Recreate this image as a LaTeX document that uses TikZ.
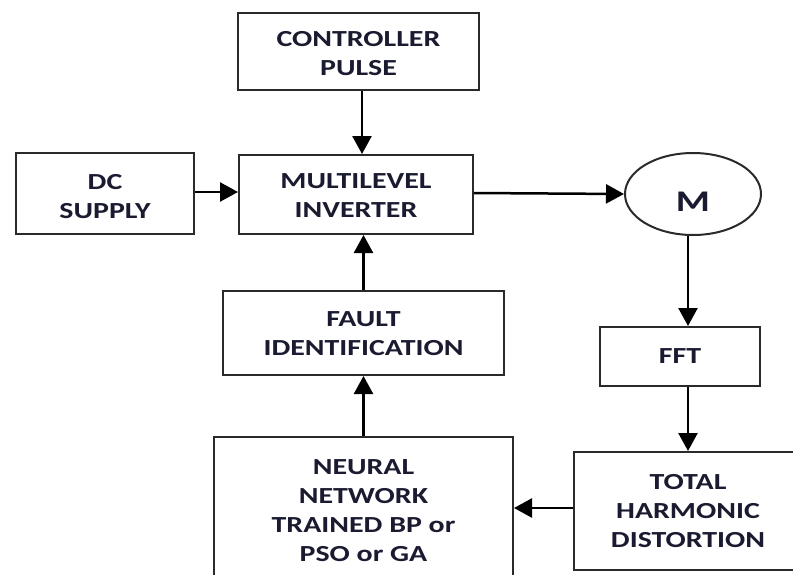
\documentclass[tikz,border=0pt]{standalone}
\usepackage{fontspec}
\setmainfont{Carlito}[FakeStretch=1.3]
\usetikzlibrary{shapes.geometric,arrows.meta,calc}
\definecolor{txt}{HTML}{1A1A30}
\definecolor{edge}{HTML}{2A2A2A}
\newcommand\lowtxt[2]{\raisebox{-#1}[\height][\depth]{\begin{tabular}{@{}c@{}}#2\end{tabular}}}
\begin{document}
\begin{tikzpicture}[x=1pt,y=-1pt,
  box/.style={draw=edge,line width=2pt,rectangle,inner sep=0pt,align=center,
    font=\bfseries\fontsize{23}{29}\selectfont,text=txt},
  arr/.style={draw=black,line width=2.5pt,-{Triangle[length=18pt,width=19pt]}}]
\useasboundingbox (0,0) rectangle (793,574);
\clip (0,0) rectangle (793,574);
\fill[white] (0,0) rectangle (793,574);
\node[box,minimum width=241pt,minimum height=77pt] (ctrl) at (358.5,51.5) {\lowtxt{4pt}{CONTROLLER\\PULSE}};
\node[box,minimum width=178pt,minimum height=81pt] (dc) at (105,193.5) {\lowtxt{5pt}{DC\\SUPPLY}};
\node[box,minimum width=234pt,minimum height=79pt] (inv) at (356,194.5) {\lowtxt{3pt}{MULTILEVEL\\INVERTER}};
\node[draw=edge,line width=2pt,ellipse,minimum width=136pt,minimum height=82pt,inner sep=0pt] (m) at (693,194) {};
\node[font=\bfseries\fontsize{30}{30}\selectfont,text=txt,inner sep=0pt] (mtxt) at (693,202) {M};
\node[box,minimum width=281pt,minimum height=84pt] (fault) at (363.5,333) {\lowtxt{2pt}{FAULT\\IDENTIFICATION}};
\node[box,minimum width=160pt,minimum height=59pt] (fft) at (680,356.5) {FFT};
\node[box,minimum width=299pt,minimum height=148pt] (nn) at (363.5,511) {NEURAL\\NETWORK\\TRAINED BP or\\PSO or GA};
\node[box,minimum width=228pt,minimum height=118pt] (thd) at (688,511) {TOTAL\\HARMONIC\\DISTORTION};
% connectors
\draw[arr] ([xshift=3.5pt]ctrl.south) -- ([xshift=3.5pt]ctrl.south |- inv.north);
\draw[arr] (dc.east |- 0,192) -- (inv.west |- 0,192);
\draw[arr] (inv.east |- 0,193) -- (m.west);
\draw[line width=2.5pt] ([xshift=-5pt]m.south) -- ([xshift=-5pt]m.south |- 0,240);
\draw[arr] ([xshift=-5pt]m.south |- 0,240) -- ([xshift=-5pt]m.south |- fft.north);
\draw[arr] (thd.north |- fft.south) -- (thd.north);
\draw[arr] (thd.west |- 0,508) -- (nn.east |- 0,508);
\draw[arr] (nn.north) -- (nn.north |- fault.south);
\draw[arr] (fault.north) -- (fault.north |- inv.south);
\end{tikzpicture}
\end{document}
